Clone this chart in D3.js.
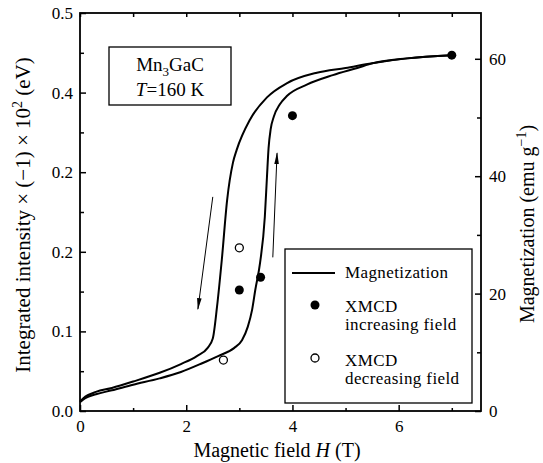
<!DOCTYPE html>
<html>
<head>
<meta charset="utf-8">
<script src="https://cdn.jsdelivr.net/npm/d3@7"></script>
<style>
body { margin: 0; background: #fff; }
text { font-family: "Liberation Serif", "DejaVu Serif", serif; fill: #000; }
</style>
</head>
<body>
<script>
// magnetization loop: [H (T), intensity on left scale]
var incBranch = [[0,0.011],[0.1,0.016],[0.3,0.021],[0.6,0.026],[1.0,0.033],[1.5,0.041],[1.9,0.049],
	[2.3,0.060],[2.6,0.069],[2.9,0.079],[3.05,0.089],[3.16,0.106],[3.24,0.127],[3.30,0.152],
	[3.39,0.186],[3.48,0.244],[3.52,0.294],[3.55,0.330],[3.59,0.354],[3.65,0.370],[3.76,0.385],
	[3.90,0.396],[4.27,0.410],[4.76,0.422],[5.22,0.431],[5.52,0.437],[6.16,0.443],[7.0,0.447]];
var decBranch = [[0,0.012],[0.1,0.018],[0.3,0.024],[0.6,0.029],[1.0,0.037],[1.5,0.048],[1.9,0.059],
	[2.2,0.069],[2.4,0.079],[2.5,0.091],[2.58,0.131],[2.67,0.190],[2.77,0.265],[2.88,0.312],
	[2.95,0.328],[3.2,0.366],[3.52,0.394],[3.9,0.412],[4.46,0.425],[5.0,0.431],[5.5,0.437],
	[6.16,0.443],[7.0,0.447]];
var xmcdInc = [[3.0,0.152],[3.4,0.168],[4.0,0.371],[7.0,0.447]];
var xmcdDec = [[2.7,0.064],[3.0,0.205]];
// arrows [from, to] in data units
var arrows = [[[2.50,0.269],[2.22,0.128]], [[3.63,0.193],[3.71,0.324]]];

var xTicks = [0,2,4,6];
var xMinor = [1,3,5,7];
var yTicks = [0,0.1,0.2,0.3,0.4,0.5];
var yTickLabels = ["0.0","0.1","0.2","0.2","0.4","0.5"];
var yMinor = [0.05,0.15,0.25,0.35,0.45];
var rTicks = [0,20,40,60];
var rMinor = [10,30,50];

var w = 543, h = 463;
var pl = 80, pr = 481, pt = 13, pb = 411;

var svg = d3.select("body").append("svg")
	.attr("width", w)
	.attr("height", h);

var x = d3.scaleLinear().domain([0, 7.55]).range([pl, pr]);
var y = d3.scaleLinear().domain([0, 0.5]).range([pb, pt]);
var yR = d3.scaleLinear().domain([0, 67.8]).range([pb, pt]);

// frame
svg.append("rect")
	.attr("x", pl).attr("y", pt)
	.attr("width", pr - pl).attr("height", pb - pt)
	.attr("fill", "none").attr("stroke", "#000").attr("stroke-width", 1.8);

function styleAxis(g) {
	g.select(".domain").remove();
	g.selectAll("line").attr("stroke", "#000").attr("stroke-width", 1.5);
	g.selectAll("text").attr("font-size", "17px").attr("font-family", "Liberation Serif");
}

// major ticks point inward
svg.append("g").attr("transform", "translate(0," + pb + ")")
	.call(d3.axisBottom(x).tickValues(xTicks).tickFormat(d3.format("d")).tickSizeInner(-6).tickSizeOuter(0).tickPadding(9))
	.call(styleAxis);
svg.append("g").attr("transform", "translate(0," + pb + ")")
	.call(d3.axisBottom(x).tickValues(xMinor).tickFormat("").tickSizeInner(-3).tickSizeOuter(0))
	.call(styleAxis);
svg.append("g").attr("transform", "translate(0," + pt + ")")
	.call(d3.axisTop(x).tickValues(xTicks.concat(xMinor)).tickFormat("").tickSizeInner(-4).tickSizeOuter(0))
	.call(styleAxis);

svg.append("g").attr("transform", "translate(" + pl + ",0)")
	.call(d3.axisLeft(y).tickValues(yTicks).tickFormat(function(d, i) { return yTickLabels[i]; }).tickSizeInner(-6).tickSizeOuter(0).tickPadding(7))
	.call(styleAxis);
svg.append("g").attr("transform", "translate(" + pl + ",0)")
	.call(d3.axisLeft(y).tickValues(yMinor).tickFormat("").tickSizeInner(-4).tickSizeOuter(0))
	.call(styleAxis);

svg.append("g").attr("transform", "translate(" + pr + ",0)")
	.call(d3.axisRight(yR).tickValues(rTicks).tickFormat(d3.format("d")).tickSizeInner(-6).tickSizeOuter(0).tickPadding(8))
	.call(styleAxis);
svg.append("g").attr("transform", "translate(" + pr + ",0)")
	.call(d3.axisRight(yR).tickValues(rMinor).tickFormat("").tickSizeInner(-4).tickSizeOuter(0))
	.call(styleAxis);

// curves
var line = d3.line()
	.x(function(d) { return x(d[0]); })
	.y(function(d) { return y(d[1]); })
	.curve(d3.curveMonotoneX);

[incBranch, decBranch].forEach(function(b) {
	svg.append("path")
		.attr("d", line(b))
		.attr("fill", "none")
		.attr("stroke", "#000")
		.attr("stroke-width", 2);
});

svg.selectAll("circle.inc")
	.data(xmcdInc)
	.enter()
	.append("circle")
	.attr("class", "inc")
	.attr("cx", function(d) { return x(d[0]); })
	.attr("cy", function(d) { return y(d[1]); })
	.attr("r", 4.5)
	.attr("fill", "#000");

svg.selectAll("circle.dec")
	.data(xmcdDec)
	.enter()
	.append("circle")
	.attr("class", "dec")
	.attr("cx", function(d) { return x(d[0]); })
	.attr("cy", function(d) { return y(d[1]); })
	.attr("r", 4)
	.attr("fill", "#fff")
	.attr("stroke", "#000")
	.attr("stroke-width", 1.3);

// arrows
svg.append("defs").append("marker")
	.attr("id", "head")
	.attr("viewBox", "0 0 12 6")
	.attr("refX", 11).attr("refY", 3)
	.attr("markerWidth", 12).attr("markerHeight", 6)
	.attr("markerUnits", "userSpaceOnUse")
	.attr("orient", "auto")
	.append("path")
	.attr("d", "M0,0.7 L12,3 L0,5.3 Z")
	.attr("fill", "#000");

arrows.forEach(function(a) {
	svg.append("line")
		.attr("x1", x(a[0][0])).attr("y1", y(a[0][1]))
		.attr("x2", x(a[1][0])).attr("y2", y(a[1][1]))
		.attr("stroke", "#000").attr("stroke-width", 1)
		.attr("marker-end", "url(#head)");
});

// sample box
svg.append("rect")
	.attr("x", 109).attr("y", 47).attr("width", 122).attr("height", 58)
	.attr("fill", "#fff").attr("stroke", "#000").attr("stroke-width", 1.3);
var t1 = svg.append("text").attr("x", 170).attr("y", 71).attr("text-anchor", "middle").attr("font-size", "19px");
t1.append("tspan").text("Mn");
t1.append("tspan").attr("font-size", "13px").attr("dy", 5).text("3");
t1.append("tspan").attr("dy", -5).text("GaC");
var t2 = svg.append("text").attr("x", 170).attr("y", 96).attr("text-anchor", "middle").attr("font-size", "19px");
t2.append("tspan").attr("font-style", "italic").text("T");
t2.append("tspan").text("=160 K");

// legend
var lg = svg.append("g").attr("font-size", "17px").attr("letter-spacing", "0.4px");
lg.append("rect")
	.attr("x", 285).attr("y", 249).attr("width", 187).attr("height", 154)
	.attr("fill", "#fff").attr("stroke", "#000").attr("stroke-width", 1.3);
lg.append("line").attr("x1", 292).attr("x2", 335).attr("y1", 273).attr("y2", 273)
	.attr("stroke", "#000").attr("stroke-width", 2);
lg.append("text").attr("x", 345).attr("y", 278).text("Magnetization");
lg.append("circle").attr("cx", 315).attr("cy", 305).attr("r", 4.5).attr("fill", "#000");
lg.append("text").attr("x", 345).attr("y", 312).text("XMCD");
lg.append("text").attr("x", 345).attr("y", 330).text("increasing field");
lg.append("circle").attr("cx", 315).attr("cy", 358).attr("r", 4).attr("fill", "#fff")
	.attr("stroke", "#000").attr("stroke-width", 1.3);
lg.append("text").attr("x", 345).attr("y", 366).text("XMCD");
lg.append("text").attr("x", 345).attr("y", 384).text("decreasing field");

// axis titles
var xt = svg.append("text").attr("x", 277).attr("y", 457).attr("text-anchor", "middle").attr("font-size", "20px");
xt.append("tspan").text("Magnetic field ");
xt.append("tspan").attr("font-style", "italic").text("H");
xt.append("tspan").text(" (T)");

var yt = svg.append("text").attr("transform", "translate(30,215) rotate(-90)")
	.attr("text-anchor", "middle").attr("font-size", "21px");
yt.append("tspan").text("Integrated intensity \u00d7 (\u22121) \u00d7 10");
yt.append("tspan").attr("font-size", "14px").attr("dy", -8).text("2");
yt.append("tspan").attr("dy", 8).text(" (eV)");

var rt = svg.append("text").attr("transform", "translate(534,224) rotate(-90)")
	.attr("text-anchor", "middle").attr("font-size", "20px");
rt.append("tspan").text("Magnetization (emu g");
rt.append("tspan").attr("font-size", "14px").attr("dy", -8).text("\u22121");
rt.append("tspan").attr("dy", 8).text(")");
</script>
</body>
</html>
